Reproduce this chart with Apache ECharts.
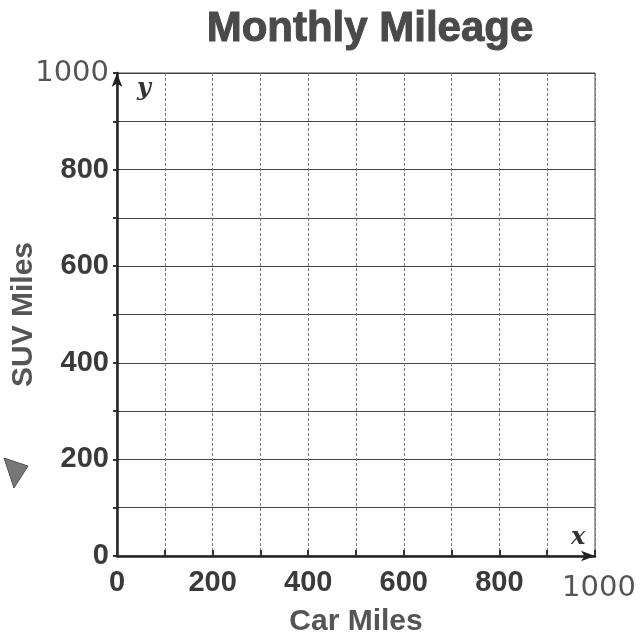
<!DOCTYPE html>
<html>
<head>
<meta charset="utf-8">
<script src="https://cdn.jsdelivr.net/npm/echarts@6/dist/echarts.min.js"></script>
<style>
  html, body { margin: 0; padding: 0; background: #fff; }
  #chart { width: 644px; height: 638px; }
</style>
</head>
<body>
<div id="chart"></div>
<script>
const xRange = [0, 1000]
const yRange = [0, 1000]
const gridStep = 100
const labelStep = 200
// empty grid: no plotted points on the worksheet
const points = []

const chart = echarts.init(document.getElementById('chart'))

const labelFont = {
  fontFamily: 'Liberation Sans',
  fontWeight: 'bold',
  fontSize: 29,
  color: '#3a3a3a'
}
const nameFont = {
  fontFamily: 'Liberation Sans',
  fontWeight: 'bold',
  fontSize: 30,
  color: '#555'
}
// the two handwritten "1000" labels
const handStyle = {
  fontFamily: 'DejaVu Sans',
  fontWeight: 'normal',
  fontSize: 29,
  color: '#555',
  letterSpacing: 1
}

function fmt(v) {
  if (v % labelStep !== 0) return ''
  if (v === 1000) return '{hand|' + v + '}'
  return String(v)
}

chart.setOption({
  animation: false,
  title: {
    text: 'Monthly Mileage',
    left: 365,
    top: 3,
    textAlign: 'center',
    textStyle: {
      fontFamily: 'Liberation Sans',
      fontWeight: 'bold',
      fontSize: 42,
      color: '#4a4a4a',
      textBorderColor: '#4a4a4a',
      textBorderWidth: 1
    }
  },
  grid: {
    left: 117,
    right: 49,
    top: 73,
    bottom: 82,
    containLabel: false,
    outerBoundsMode: 'none',
    show: true,
    borderColor: '#444',
    borderWidth: 1
  },
  xAxis: {
    type: 'value',
    min: xRange[0],
    max: xRange[1],
    interval: gridStep,
    name: 'Car Miles',
    nameLocation: 'middle',
    nameGap: 51,
    nameMoveOverlap: false,
    nameTextStyle: nameFont,
    axisLine: {
      show: true,
      symbol: ['none', 'arrow'],
      symbolSize: [8, 14],
      lineStyle: { color: '#222', width: 2.5 }
    },
    axisTick: { show: true, inside: true, length: 6, lineStyle: { color: '#333', width: 2 } },
    splitLine: { show: true, lineStyle: { color: '#777', width: 1, type: [3, 2] } },
    axisLabel: {
      ...labelFont,
      margin: 12,
      formatter: fmt,
      rich: { hand: { ...handStyle, padding: [6, 0, 0, 8] } }
    }
  },
  yAxis: {
    type: 'value',
    min: yRange[0],
    max: yRange[1],
    interval: gridStep,
    name: 'SUV Miles',
    nameLocation: 'middle',
    nameGap: 78,
    nameRotate: 90,
    nameMoveOverlap: false,
    nameTextStyle: nameFont,
    axisLine: {
      show: true,
      symbol: ['none', 'arrow'],
      symbolSize: [8, 14],
      lineStyle: { color: '#222', width: 2.5 }
    },
    axisTick: { show: true, length: 4, lineStyle: { color: '#333', width: 2 } },
    splitLine: { show: true, lineStyle: { color: '#444', width: 1 } },
    axisLabel: {
      ...labelFont,
      margin: 8,
      formatter: fmt,
      rich: { hand: { ...handStyle } }
    }
  },
  series: [{
    type: 'scatter',
    data: points
  }]
})

// axis letters placed through the chart's own scales
const yPos = chart.convertToPixel({ gridIndex: 0 }, [0, 1000])
const xPos = chart.convertToPixel({ gridIndex: 0 }, [1000, 0])
chart.setOption({
  graphic: [
    {
      type: 'text',
      x: yPos[0] + 20,
      y: yPos[1] + 4,
      style: { text: 'y', font: 'italic bold 24px "DejaVu Serif"', fill: '#333' }
    },
    {
      type: 'text',
      x: xPos[0] - 24,
      y: xPos[1] - 30,
      style: { text: 'x', font: 'italic bold 24px "DejaVu Serif"', fill: '#333' }
    },
    {
      type: 'polygon',
      shape: { points: [[4, 458], [28, 466], [14, 488]] },
      style: { fill: '#777', stroke: '#555', lineWidth: 1 }
    }
  ]
})
</script>
</body>
</html>
